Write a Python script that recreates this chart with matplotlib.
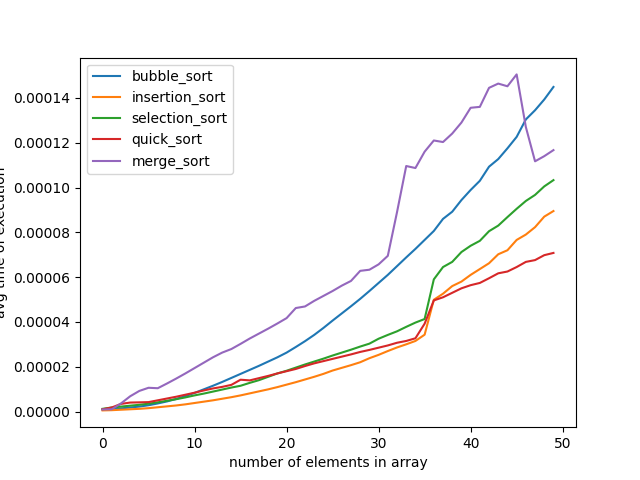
import matplotlib
matplotlib.use("Agg")
import matplotlib.pyplot as plt

# array sizes tried
sizes = list(range(50))

# average run times (in microseconds, converted to seconds below)
bubble_us = [0.9, 1.1, 1.4, 1.8, 2.2, 2.8, 3.6, 4.5, 5.6, 6.9,
             8.3, 9.9, 11.5, 13.2, 15.0, 16.8, 18.6, 20.4, 22.3, 24.2,
             26.3, 28.8, 31.4, 34.2, 37.3, 40.6, 43.8, 47.0, 50.3, 53.8,
             57.4, 61.0, 64.9, 68.8, 72.6, 76.6, 80.6, 86.0, 89.2, 94.4,
             98.9, 103.0, 109.3, 112.7, 117.5, 122.6, 130.4, 134.5, 139.3, 144.9]
insertion_us = [0.5, 0.6, 0.8, 1.0, 1.2, 1.5, 1.9, 2.3, 2.7, 3.2,
                3.8, 4.4, 5.0, 5.7, 6.4, 7.2, 8.1, 9.0, 9.9, 10.9,
                12.0, 13.1, 14.3, 15.5, 16.8, 18.3, 19.5, 20.7, 22.0, 23.8,
                25.3, 27.0, 28.6, 30.0, 31.5, 34.3, 49.9, 52.6, 56.0, 58.0,
                61.0, 63.6, 66.2, 70.2, 72.0, 76.6, 79.0, 82.3, 87.0, 89.5]
selection_us = [1.2, 1.8, 2.2, 2.6, 3.0, 3.5, 4.1, 4.8, 5.5, 6.3,
                7.2, 8.0, 8.9, 9.8, 10.7, 11.5, 12.8, 14.0, 15.5, 17.0,
                18.2, 19.6, 21.0, 22.3, 23.6, 25.0, 26.3, 27.6, 29.0, 30.3,
                32.5, 34.2, 35.8, 37.8, 39.7, 41.3, 59.0, 64.5, 66.8, 71.2,
                74.0, 76.2, 80.5, 83.0, 86.8, 90.5, 94.0, 96.7, 100.5, 103.3]
quick_us = [1.0, 1.8, 3.4, 4.0, 4.1, 4.2, 5.0, 5.8, 6.6, 7.5,
            8.4, 9.4, 10.3, 11.0, 11.9, 14.2, 13.9, 14.9, 15.9, 17.0,
            18.0, 19.0, 20.3, 21.5, 22.5, 23.5, 24.5, 25.5, 26.6, 27.5,
            28.5, 29.5, 30.7, 31.5, 32.7, 39.2, 49.6, 51.0, 53.0, 55.0,
            56.4, 57.4, 59.5, 61.7, 62.5, 64.5, 66.8, 67.6, 69.8, 70.8]
merge_us = [0.9, 1.0, 3.6, 6.8, 9.2, 10.6, 10.4, 12.5, 14.7, 17.0,
            19.4, 21.8, 24.2, 26.3, 27.9, 30.2, 32.6, 34.8, 37.0, 39.3,
            41.7, 46.2, 46.9, 49.4, 51.6, 53.8, 56.2, 58.3, 62.8, 63.3,
            65.7, 69.5, 89.0, 109.6, 108.7, 116.0, 121.0, 120.3, 124.1, 129.0,
            135.6, 136.0, 144.5, 146.4, 145.2, 150.5, 127.0, 111.7, 114.0, 116.7]

series = [
    ("bubble_sort", bubble_us),
    ("insertion_sort", insertion_us),
    ("selection_sort", selection_us),
    ("quick_sort", quick_us),
    ("merge_sort", merge_us),
]

plt.figure(figsize=(6.4, 4.8), dpi=100)
for name, vals in series:
    plt.plot(sizes, [v * 1e-6 for v in vals], label=name)

plt.xlabel("number of elements in array")
plt.ylabel("avg time of execution")
plt.legend()
plt.savefig("out.png")
